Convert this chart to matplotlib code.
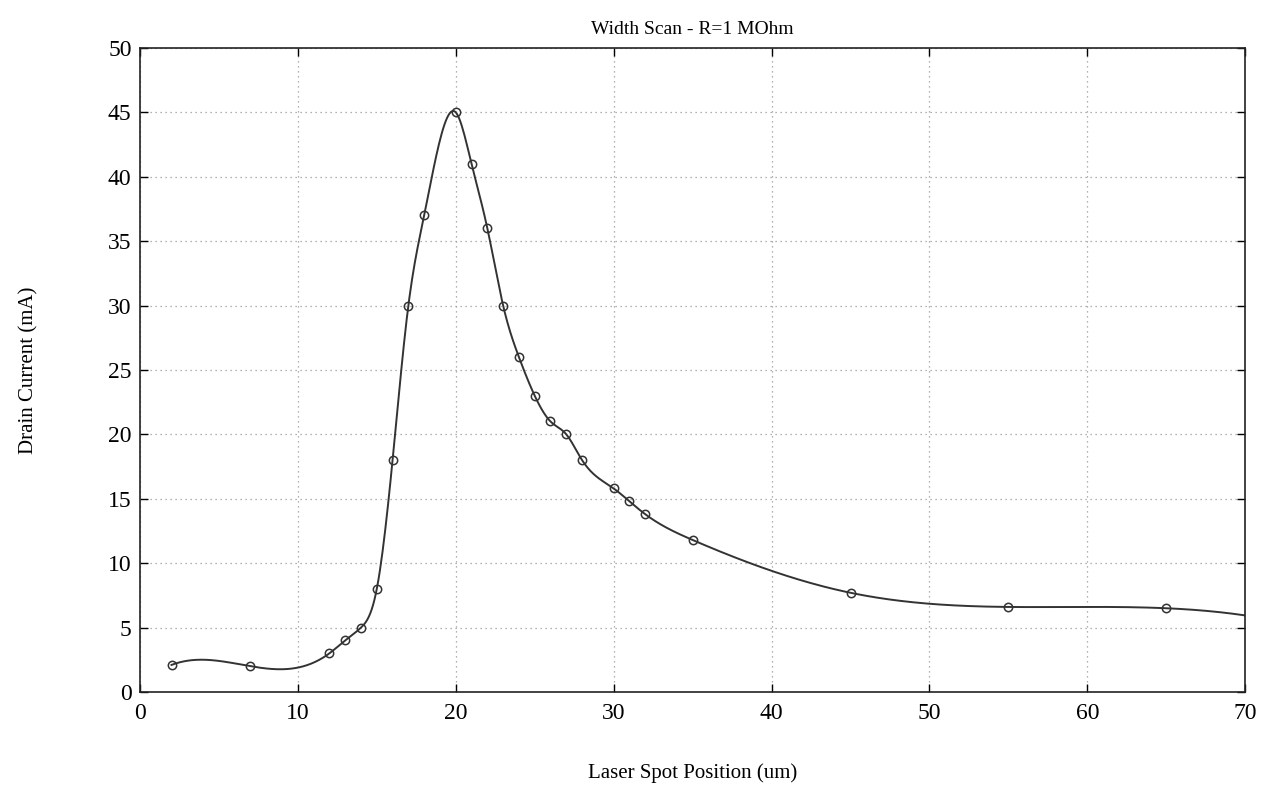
import numpy as np
import matplotlib
matplotlib.use("Agg")
import matplotlib.pyplot as plt

x_pos = [2, 7, 12, 13, 14, 15, 16, 17, 18, 20, 21, 22, 23, 24, 25, 26, 27, 28,
         30, 31, 32, 35, 45, 55, 65]
current = [2.1, 2.0, 3.0, 4.0, 5.0, 8.0, 18.0, 30.0, 37.0, 45.0, 41.0, 36.0, 30.0,
           26.0, 23.0, 21.0, 20.0, 18.0, 15.8, 14.8, 13.8, 11.8, 7.7, 6.6, 6.5]
x_ticks = [0, 10, 20, 30, 40, 50, 60, 70]
y_ticks = [0, 5, 10, 15, 20, 25, 30, 35, 40, 45, 50]


def spline_not_a_knot(x, y, xq):
    x = np.asarray(x, float)
    y = np.asarray(y, float)
    n = len(x)
    h = np.diff(x)
    A = np.zeros((n, n))
    b = np.zeros(n)
    A[0, 0], A[0, 1], A[0, 2] = h[1], -(h[0] + h[1]), h[0]
    for i in range(1, n - 1):
        A[i, i - 1] = h[i - 1]
        A[i, i] = 2 * (h[i - 1] + h[i])
        A[i, i + 1] = h[i]
        b[i] = 6 * ((y[i + 1] - y[i]) / h[i] - (y[i] - y[i - 1]) / h[i - 1])
    A[-1, -3], A[-1, -2], A[-1, -1] = h[-1], -(h[-2] + h[-1]), h[-2]
    M = np.linalg.solve(A, b)
    idx = np.clip(np.searchsorted(x, xq) - 1, 0, n - 2)
    xi, xi1 = x[idx], x[idx + 1]
    hi = xi1 - xi
    yi, yi1 = y[idx], y[idx + 1]
    Mi, Mi1 = M[idx], M[idx + 1]
    return (Mi * (xi1 - xq) ** 3 / (6 * hi) + Mi1 * (xq - xi) ** 3 / (6 * hi)
            + (yi / hi - Mi * hi / 6) * (xi1 - xq) + (yi1 / hi - Mi1 * hi / 6) * (xq - xi))


plt.rcParams['font.family'] = ['Liberation Serif', 'DejaVu Serif']

fig = plt.figure(figsize=(12.72, 7.85), dpi=100)
ax = fig.add_axes([0.110, 0.1185, 0.869, 0.8205])

xs = np.linspace(x_pos[0], 70, 800)
ax.plot(xs, spline_not_a_knot(x_pos, current, xs), color='#333333', lw=1.4)
ax.plot(x_pos, current, 'o', mfc='none', mec='#333333', ms=6, mew=1.1)

ax.set_xlim(0, 70)
ax.set_ylim(0, 50)
ax.set_xticks(x_ticks)
ax.set_yticks(y_ticks)
ax.grid(True, linestyle=(0, (1, 3)), color='#999999', lw=0.9)
ax.tick_params(direction='in', top=True, right=True, labelsize=17, length=6, width=1)
ax.tick_params(axis='x', pad=8)
ax.tick_params(axis='y', pad=6)
for s in ax.spines.values():
    s.set_linewidth(1.2)
    s.set_color('#222222')
ax.set_title('Width Scan - R=1 MOhm', fontsize=14, pad=10)
ax.set_xlabel('Laser Spot Position (um)', fontsize=15, labelpad=28)
ax.set_ylabel('Drain Current (mA)', fontsize=15, labelpad=50)

fig.savefig('out.png', dpi=100)
